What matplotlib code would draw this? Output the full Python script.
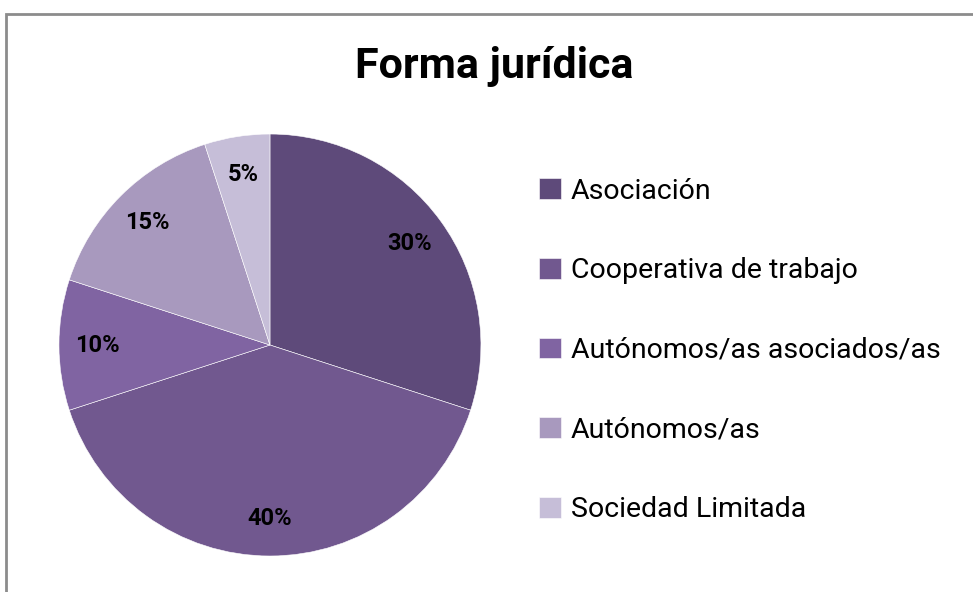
import matplotlib.pyplot as plt
from matplotlib.patches import Rectangle

categories = ['Asociación', 'Cooperativa de trabajo', 'Autónomos/as asociados/as',
              'Autónomos/as', 'Sociedad Limitada']
values = [30, 40, 10, 15, 5]
colors = ['#5E4A7A', '#71588F', '#8064A2', '#A899BE', '#C6BED8']

plt.rcParams['font.family'] = 'Roboto'

fig = plt.figure(figsize=(9.73, 5.92), dpi=100)

# grey chart frame (runs off the right and bottom edges)
fig.patches.append(Rectangle((5.5 / 973, -0.1), 1.2, (592 - 13.5) / 592 + 0.1,
                             transform=fig.transFigure, fill=False,
                             edgecolor='#8C8C8C', linewidth=2))

ax = fig.add_axes([0.0606, 0.0608, 0.4337, 0.7128])
wedges, texts, autotexts = ax.pie(values, colors=colors, startangle=90, counterclock=False,
                                  autopct='%1.0f%%', pctdistance=0.82,
                                  wedgeprops=dict(edgecolor='white', linewidth=0.4))
for t in autotexts:
    t.set_fontsize(17)
    t.set_fontweight('bold')
ax.set_xlim(-1, 1)
ax.set_ylim(-1, 1)
ax.set_aspect('equal')

fig.text(0.508, 0.888, 'Forma jurídica', ha='center', va='center',
         fontsize=31, fontweight='bold')

fig.legend(wedges, categories, loc='center left', bbox_to_anchor=(0.528, 0.408),
           frameon=False, fontsize=20.5, handlelength=0.75, handleheight=0.75,
           handletextpad=0.35, labelspacing=1.85)

fig.savefig('out.png', dpi=100)
